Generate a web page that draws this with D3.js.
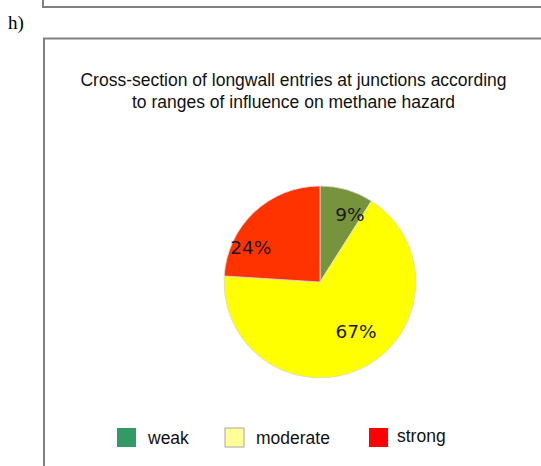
<!DOCTYPE html>
<html>
<head>
<meta charset="utf-8">
<script src="https://cdn.jsdelivr.net/npm/d3@7/dist/d3.min.js"></script>
<style>
  html, body { margin: 0; padding: 0; background: #fff; }
  svg { display: block; }
</style>
</head>
<body>
<svg id="chart" width="541" height="466"></svg>
<script>
// Shares of longwall entries by range of influence on methane hazard
const categories = ["weak", "moderate", "strong"];
const values = [9, 67, 24];
const sliceLabels = ["9%", "67%", "24%"];
const sliceColors = ["#77933C", "#FFFF00", "#FF3300"];
const legendColors = ["#339966", "#FFFF99", "#FF0000"];
const titleLines = [
  "Cross-section of longwall entries at junctions according",
  "to ranges of influence on methane hazard"
];

const svg = d3.select("#chart");

// frame of the panel above (only its bottom edge shows)
svg.append("path")
  .attr("d", "M43,0 V7 H541")
  .attr("fill", "none")
  .attr("stroke", "#808080")
  .attr("stroke-width", 2);

// panel letter
svg.append("text")
  .attr("x", 8).attr("y", 29)
  .attr("font-family", "Liberation Serif, Times New Roman, serif")
  .attr("font-size", 19)
  .attr("fill", "#000")
  .text("h)");

// panel frame
svg.append("path")
  .attr("d", "M44,466 V38.5 H541")
  .attr("fill", "none")
  .attr("stroke", "#808080")
  .attr("stroke-width", 2);

// title
svg.append("text")
  .attr("text-anchor", "middle")
  .attr("font-family", "Liberation Sans, Arial, sans-serif")
  .attr("font-size", 17.5)
  .attr("fill", "#111")
  .selectAll("tspan")
  .data(titleLines)
  .join("tspan")
  .attr("x", 293.5)
  .attr("y", (d, i) => 86 + i * 22)
  .text(d => d);

// pie
const cx = 320, cy = 282, r = 96;
const pie = d3.pie().sort(null).value(d => d.value);
const arc = d3.arc().innerRadius(0).outerRadius(r);
const labelArc = d3.arc().innerRadius(r * 0.78).outerRadius(r * 0.78);

const data = categories.map((c, i) => ({
  name: c, value: values[i], label: sliceLabels[i], color: sliceColors[i]
}));
const arcs = pie(data);

const g = svg.append("g").attr("transform", `translate(${cx},${cy})`);
g.selectAll("path.slice")
  .data(arcs)
  .join("path")
  .attr("class", "slice")
  .attr("d", arc)
  .attr("fill", d => d.data.color)
  .attr("stroke", "#d9d9d9")
  .attr("stroke-width", 0.8);

const labelOffsets = { weak: [9, 4], moderate: [2, -17], strong: [-18, 20] };
g.selectAll("text.lbl")
  .data(arcs)
  .join("text")
  .attr("class", "lbl")
  .attr("transform", d => {
    const [x, y] = labelArc.centroid(d);
    const o = labelOffsets[d.data.name];
    return `translate(${x + o[0]},${y + o[1]})`;
  })
  .attr("text-anchor", "middle")
  .attr("dominant-baseline", "central")
  .attr("font-family", "DejaVu Sans, Verdana, sans-serif")
  .attr("font-size", 18.5)
  .attr("fill", "#1a1a1a")
  .text(d => d.data.label);

// legend
const legendX = [117, 225, 369];
const legend = svg.append("g");
const items = legend.selectAll("g")
  .data(categories)
  .join("g")
  .attr("transform", (d, i) => `translate(${legendX[i]},428)`);
items.append("rect")
  .attr("width", 19).attr("height", 19)
  .attr("fill", (d, i) => legendColors[i])
  .attr("stroke", (d, i) => i === 1 ? "#a6a6a6" : "none")
  .attr("stroke-width", 1);
items.append("text")
  .attr("x", (d, i) => i === 2 ? 28 : 31)
  .attr("y", (d, i) => i === 2 ? 14 : 16)
  .attr("font-family", "Liberation Sans, Arial, sans-serif")
  .attr("font-size", 17.5)
  .attr("fill", "#111")
  .text(d => d);
</script>
</body>
</html>
